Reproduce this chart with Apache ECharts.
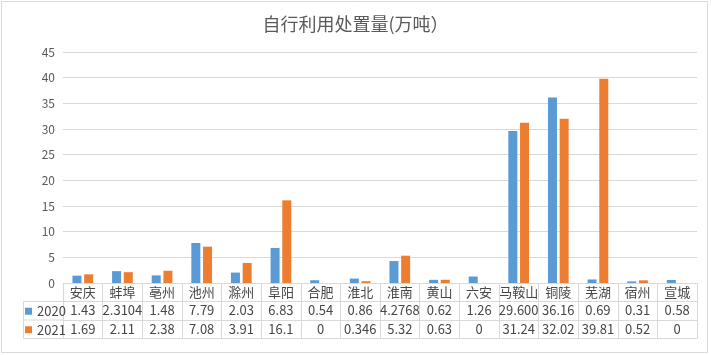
<!DOCTYPE html>
<html><head><meta charset="utf-8">
<script src="https://cdn.jsdelivr.net/npm/echarts@6/dist/echarts.min.js"></script>
<style>html,body{margin:0;padding:0;background:#fff}#c{width:711px;height:355px}</style>
</head><body><div id="c"></div>
<script>
const categories = ['安庆','蚌埠','亳州','池州','滁州','阜阳','合肥','淮北','淮南','黄山','六安','马鞍山','铜陵','芜湖','宿州','宣城'];
const values2020 = [1.43, 2.3104, 1.48, 7.79, 2.03, 6.83, 0.54, 0.86, 4.2768, 0.62, 1.26, 29.600, 36.16, 0.69, 0.31, 0.58];
const values2021 = [1.69, 2.11, 2.38, 7.08, 3.91, 16.1, 0, 0.346, 5.32, 0.63, 0, 31.24, 32.02, 39.81, 0.52, 0];
const labels2020 = ['1.43','2.3104','1.48','7.79','2.03','6.83','0.54','0.86','4.2768','0.62','1.26','29.600','36.16','0.69','0.31','0.58'];
const labels2021 = ['1.69','2.11','2.38','7.08','3.91','16.1','0','0.346','5.32','0.63','0','31.24','32.02','39.81','0.52','0'];
const seriesNames = ['2020','2021'];
const yTicks = [0,5,10,15,20,25,30,35,40,45];

const font = '"Noto Sans CJK SC","Noto Sans",sans-serif';
const numFont = '"Liberation Sans Narrow","Noto Sans CJK SC",sans-serif';
const gridCol = '#d9d9d9';
const txt = '#474747';
const chart = echarts.init(document.getElementById('c'), null, {renderer:'canvas'});

function tableAxis(data, offset, showLabel, showTick, ff){
  return {
    type:'category', data:data, position:'bottom', offset:offset, gridIndex:0,
    boundaryGap:true,
    axisLine:{show:true, lineStyle:{color:gridCol, width:1}},
    axisTick:{show:showTick, length:55, interval:0, lineStyle:{color:gridCol}},
    axisLabel:{show:showLabel, interval:0, margin:0, color:txt, fontSize:13, fontFamily:ff, lineHeight:18, verticalAlign:'top'},
    splitLine:{show:false}
  };
}

chart.setOption({
  animation:false,
  backgroundColor:'#fff',
  title:{text:'自行利用处置量(万吨）', left:'center', top:10,
    textStyle:{color:'#595959', fontSize:18, fontWeight:'normal', fontFamily:font}},
  legend:{orient:'vertical', left:25, top:302, itemGap:0, itemWidth:7, itemHeight:7, icon:'rect', padding:0,
    data:seriesNames, textStyle:{color:txt, fontSize:13, fontFamily:numFont, lineHeight:18.5}},
  grid:{left:63, right:14, top:52, bottom:72, containLabel:false},
  xAxis:[
    tableAxis(categories, 0, true, true, font),
    tableAxis(labels2020, 18.5, true, false, numFont),
    tableAxis(labels2021, 37, true, false, numFont),
    tableAxis(categories.map(()=>''), 55, false, false, font)
  ],
  yAxis:{type:'value', min:yTicks[0], max:yTicks[yTicks.length-1], interval:5,
    axisLine:{show:false}, axisTick:{show:false},
    axisLabel:{color:'#595959', fontSize:12, fontFamily:numFont, margin:8},
    splitLine:{lineStyle:{color:gridCol, width:1}}},
  series:[
    {name:seriesNames[0], type:'bar', xAxisIndex:0, data:values2020, barWidth:9, barGap:'30%', itemStyle:{color:'#5B9BD5'}},
    {name:seriesNames[1], type:'bar', xAxisIndex:0, data:values2021, barWidth:9, barGap:'30%', itemStyle:{color:'#ED7D31'}}
  ],
  graphic:[
    {type:'rect', shape:{x:1.5, y:1.5, width:706, height:351}, style:{fill:'none', stroke:gridCol, lineWidth:1}, silent:true},
    {type:'line', shape:{x1:23.5, y1:301.5, x2:63, y2:301.5}, style:{stroke:gridCol, lineWidth:1}},
    {type:'line', shape:{x1:23.5, y1:320, x2:63, y2:320}, style:{stroke:gridCol, lineWidth:1}},
    {type:'line', shape:{x1:23.5, y1:338.5, x2:63, y2:338.5}, style:{stroke:gridCol, lineWidth:1}},
    {type:'line', shape:{x1:23.5, y1:301.5, x2:23.5, y2:338.5}, style:{stroke:gridCol, lineWidth:1}}
  ]
});
</script></body></html>
